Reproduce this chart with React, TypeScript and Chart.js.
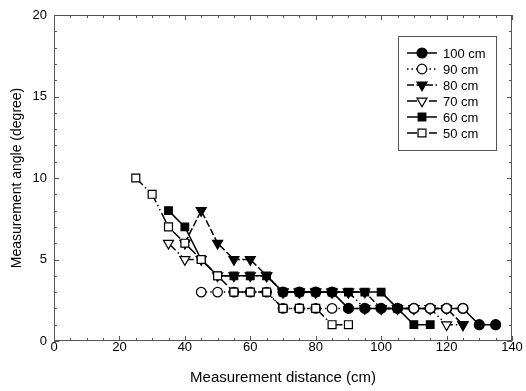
import React, { useEffect, useRef } from "react";
import { Chart, registerables } from "chart.js";

Chart.register(...registerables);

// ---- data ----
const seriesLabels = ["100 cm", "90 cm", "80 cm", "70 cm", "60 cm", "50 cm"];

const dist100 = [70, 75, 80, 85, 90, 95, 100, 105, 110, 115, 120, 125, 130, 135];
const angle100 = [3, 3, 3, 3, 2, 2, 2, 2, 2, 2, 2, 2, 1, 1];

const dist90 = [45, 50, 55, 60, 65, 70, 75, 80, 85, 110, 115, 120, 125];
const angle90 = [3, 3, 3, 3, 3, 2, 2, 2, 2, 2, 2, 2, 2];

const dist80 = [40, 45, 50, 55, 60, 65, 70, 75, 80, 85, 90, 95, 100, 105, 110, 115, 120, 125];
const angle80 = [6, 8, 6, 5, 5, 4, 3, 3, 3, 3, 3, 3, 2, 2, 2, 2, 2, 1];

const dist70 = [35, 40, 45, 50, 55, 60, 65, 70, 75, 80, 85, 90, 95, 100, 105, 110, 115, 120, 125];
const angle70 = [6, 5, 5, 4, 4, 4, 4, 3, 3, 3, 3, 3, 2, 2, 2, 2, 2, 1, 1];

const dist60 = [35, 40, 45, 50, 55, 60, 65, 70, 75, 80, 85, 90, 95, 100, 105, 110, 115];
const angle60 = [8, 7, 5, 4, 4, 4, 4, 3, 3, 3, 3, 3, 3, 3, 2, 1, 1];

const dist50 = [25, 30, 35, 40, 45, 50, 55, 60, 65, 70, 75, 80, 85, 90];
const angle50 = [10, 9, 7, 6, 5, 4, 3, 3, 3, 2, 2, 2, 1, 1];

const xMin = 0;
const xMax = 140;
const xMajorStep = 20;
const xMinorStep = 5;
const yMin = 0;
const yMax = 20;
const yMajorStep = 5;
const yMinorStep = 1;

const xTitle = "Measurement distance (cm)";
const yTitle = "Measurement angle (degree)";

const FONT = "'Liberation Sans', Arial, Helvetica, sans-serif";

const pts = (xs: number[], ys: number[]) => xs.map((x, i) => ({ x, y: ys[i] }));

type Style = {
  pointStyle: string;
  filled: boolean;
  rotation: number;
  radius: number;
  dash: number[];
  order: number;
};

const styles: Style[] = [
  { pointStyle: "circle", filled: true, rotation: 0, radius: 5.0, dash: [], order: 2 },
  { pointStyle: "circle", filled: false, rotation: 0, radius: 4.8, dash: [1.5, 3], order: 1 },
  { pointStyle: "triangle", filled: true, rotation: 180, radius: 5.8, dash: [7, 2.5], order: 4 },
  { pointStyle: "triangle", filled: false, rotation: 180, radius: 5.8, dash: [10, 3, 1.5, 3, 1.5, 3], order: 5 },
  { pointStyle: "rect", filled: true, rotation: 0, radius: 5.4, dash: [], order: 3 },
  { pointStyle: "rect", filled: false, rotation: 0, radius: 5.6, dash: [10, 3, 1.5, 3, 1.5, 3], order: 0 },
];

const seriesData = [
  pts(dist100, angle100),
  pts(dist90, angle90),
  pts(dist80, angle80),
  pts(dist70, angle70),
  pts(dist60, angle60),
  pts(dist50, angle50),
];

function drawMarker(ctx: CanvasRenderingContext2D, st: Style, x: number, y: number) {
  ctx.save();
  ctx.beginPath();
  const r = st.radius;
  if (st.pointStyle === "circle") {
    ctx.arc(x, y, r, 0, Math.PI * 2);
  } else if (st.pointStyle === "rect") {
    const s = Math.SQRT1_2 * r;
    ctx.rect(x - s, y - s, 2 * s, 2 * s);
  } else {
    let rad = (st.rotation * Math.PI) / 180;
    ctx.moveTo(x + Math.sin(rad) * r, y - Math.cos(rad) * r);
    rad += (2 * Math.PI) / 3;
    ctx.lineTo(x + Math.sin(rad) * r, y - Math.cos(rad) * r);
    rad += (2 * Math.PI) / 3;
    ctx.lineTo(x + Math.sin(rad) * r, y - Math.cos(rad) * r);
    ctx.closePath();
  }
  ctx.fillStyle = st.filled ? "#000" : "#fff";
  ctx.fill();
  ctx.lineWidth = 1.2;
  ctx.strokeStyle = "#000";
  ctx.stroke();
  ctx.restore();
}

const framePlugin = {
  id: "frameTicks",
  beforeDatasetsDraw(chart: any) {
    const { ctx, chartArea } = chart;
    const xs = chart.scales.x;
    const ys = chart.scales.y;
    const { left, right, top, bottom } = chartArea;
    ctx.save();
    ctx.strokeStyle = "#555";
    ctx.lineWidth = 1;
    ctx.strokeRect(left + 0.5, top + 0.5, right - left - 1, bottom - top - 1);
    ctx.beginPath();
    for (let v = yMin; v <= yMax; v += yMinorStep) {
      const p = Math.round(ys.getPixelForValue(v)) + 0.5;
      const len = v % yMajorStep === 0 ? 5 : 3;
      ctx.moveTo(left, p);
      ctx.lineTo(left + len, p);
      ctx.moveTo(right, p);
      ctx.lineTo(right - len, p);
    }
    for (let v = xMin; v <= xMax; v += xMinorStep) {
      const p = Math.round(xs.getPixelForValue(v)) + 0.5;
      const len = v % xMajorStep === 0 ? 5 : 3;
      ctx.moveTo(p, bottom);
      ctx.lineTo(p, bottom - len);
      ctx.moveTo(p, top);
      ctx.lineTo(p, top + len);
    }
    ctx.stroke();
    ctx.restore();
  },
  afterDatasetsDraw(chart: any) {
    const { ctx, chartArea } = chart;
    const boxRight = chartArea.right - 16;
    const boxLeft = boxRight - 98;
    const boxTop = chartArea.top + 21;
    const rowH = 16;
    const boxBottom = boxTop + 114;
    ctx.save();
    ctx.fillStyle = "#fff";
    ctx.fillRect(boxLeft, boxTop, boxRight - boxLeft, boxBottom - boxTop);
    ctx.strokeStyle = "#555";
    ctx.lineWidth = 1;
    ctx.strokeRect(boxLeft + 0.5, boxTop + 0.5, boxRight - boxLeft, boxBottom - boxTop);
    seriesLabels.forEach((label, i) => {
      const st = styles[i];
      const y = boxTop + 17 + i * rowH;
      const x0 = boxLeft + 9;
      const x1 = boxLeft + 39;
      ctx.beginPath();
      ctx.setLineDash(st.dash);
      ctx.strokeStyle = "#000";
      ctx.lineWidth = 1.5;
      ctx.moveTo(x0, y);
      ctx.lineTo(x1, y);
      ctx.stroke();
      ctx.setLineDash([]);
      drawMarker(ctx, st, (x0 + x1) / 2, y);
      ctx.fillStyle = "#000";
      ctx.font = `13px ${FONT}`;
      ctx.textAlign = "left";
      ctx.textBaseline = "middle";
      ctx.fillText(label, x1 + 6, y + 1);
    });
    ctx.restore();
  },
};

export default function App() {
  const canvasRef = useRef<HTMLCanvasElement | null>(null);

  useEffect(() => {
    const canvas = canvasRef.current;
    if (!canvas) return;
    const chart = new Chart(canvas, {
      type: "scatter",
      data: {
        datasets: seriesLabels.map((label, i) => ({
          label,
          data: seriesData[i],
          showLine: true,
          order: styles[i].order,
          borderColor: "#000",
          borderWidth: 1.5,
          borderDash: styles[i].dash,
          pointStyle: styles[i].pointStyle as any,
          pointRotation: styles[i].rotation,
          pointRadius: styles[i].radius,
          pointBorderWidth: 1.2,
          pointBorderColor: "#000",
          pointBackgroundColor: styles[i].filled ? "#000" : "#fff",
          tension: 0,
        })),
      },
      options: {
        responsive: false,
        animation: false,
        devicePixelRatio: 1,
        layout: { padding: { left: 0, top: 15, right: 14, bottom: 0 } },
        plugins: {
          legend: { display: false },
          tooltip: { enabled: false },
        },
        scales: {
          x: {
            type: "linear",
            min: xMin,
            max: xMax,
            grid: { display: false, drawTicks: false },
            border: { display: false },
            ticks: {
              stepSize: xMajorStep,
              padding: 0,
              color: "#000",
              maxRotation: 0,
              font: { family: FONT, size: 13, lineHeight: 1 },
            },
            title: {
              display: true,
              text: xTitle,
              color: "#000",
              font: { family: FONT, size: 15 },
              padding: { top: 0, bottom: 4 },
            },
            afterFit(scale: any) {
              scale.height = 50;
              scale.paddingLeft = 0;
              scale.paddingRight = 0;
            },
          },
          y: {
            type: "linear",
            min: yMin,
            max: yMax,
            grid: { display: false, drawTicks: false },
            border: { display: false },
            ticks: {
              stepSize: yMajorStep,
              padding: 7,
              color: "#000",
              font: { family: FONT, size: 13 },
            },
            title: {
              display: true,
              text: yTitle,
              color: "#000",
              font: { family: FONT, size: 14 },
              padding: { top: 9, bottom: 0 },
            },
            afterFit(scale: any) {
              scale.width = 54;
              scale.paddingTop = 0;
              scale.paddingBottom = 0;
            },
          },
        },
      },
      plugins: [framePlugin],
    });
    return () => chart.destroy();
  }, []);

  return (
    <div style={{ position: "absolute", left: 0, top: 0, width: 526, height: 391, background: "#fff" }}>
      <canvas ref={canvasRef} width={526} height={391} style={{ display: "block" }} />
    </div>
  );
}
